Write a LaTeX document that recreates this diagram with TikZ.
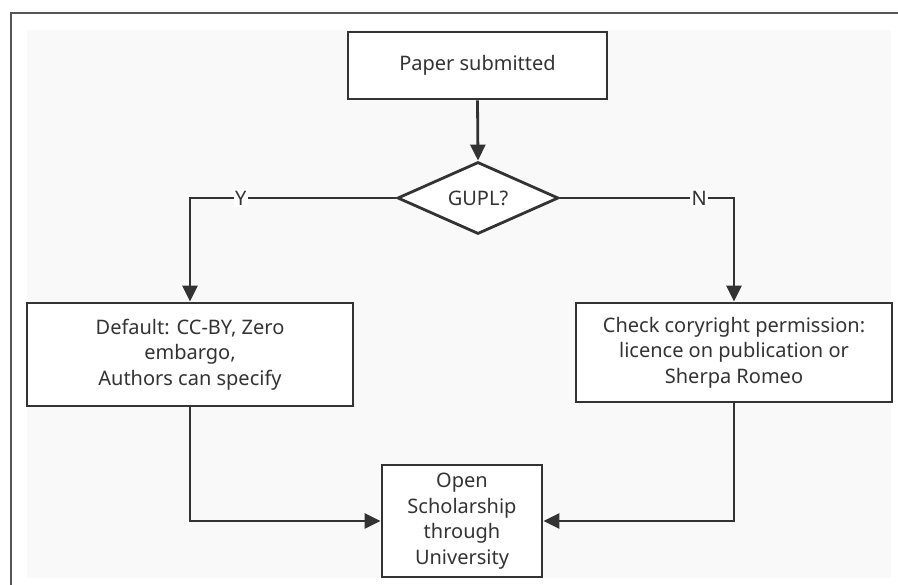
\documentclass[tikz,border=0pt]{standalone}
\usepackage{fontspec}
\setmainfont{Noto Sans}
\usetikzlibrary{shapes.geometric,arrows.meta}
\definecolor{ink}{HTML}{333333}
\definecolor{bggray}{HTML}{F9F9F9}
\definecolor{framegray}{HTML}{555555}
\tikzset{
  box/.style={draw=ink, line width=2.8pt, fill=white, rectangle, align=center, inner sep=0pt,
    text=ink, font=\fontsize{20}{25.5}\selectfont},
  decision/.style={draw=ink, line width=2.8pt, fill=white, diamond, inner sep=0pt, aspect=2.2,
    text=ink, font=\fontsize{20}{25.5}\selectfont},
  conn/.style={draw=ink, line width=2.8pt, -{Triangle[length=16pt,width=15pt]}},
  lbl/.style={fill=white, inner sep=1.5pt, text=ink, font=\fontsize{20}{22}\selectfont}
}
\begin{document}
\begin{tikzpicture}[x=1pt,y=-1pt]
\useasboundingbox (0,0) rectangle (898,585);
\fill[white] (0,0) rectangle (898,585);
\fill[bggray] (27,30) rectangle (891,578);
\draw[framegray, line width=1.3pt] (11,585) -- (11,13) -- (898,13);
\node[box, minimum width=259pt, minimum height=67pt] (paper) at (477.5,65.5) {Paper submitted};
\node[decision, minimum width=161pt, minimum height=72pt] (gupl) at (478,198) {GUPL?};
\node[box, minimum width=326pt, minimum height=103pt] (left) at (190,354.5) {Default: CC-BY, Zero\\embargo,\\Authors can specify};
\node[box, minimum width=316pt, minimum height=99pt] (right) at (734,352.5) {Check coryright permission:\\licence on publication or\\Sherpa Romeo};
\node[box, minimum width=160pt, minimum height=112pt] (final) at (462,521) {Open\\Scholarship\\through\\University};
\draw[conn] (paper.south) -- (gupl.north);
\draw[conn] (gupl.west) -| node[lbl, pos=0.377] {Y} (left.north);
\draw[conn] (gupl.east) -| node[lbl, pos=0.4] {N} (right.north);
\draw[conn] (left.south) |- (final.west);
\draw[conn] (right.south) |- (final.east);
\end{tikzpicture}
\end{document}
